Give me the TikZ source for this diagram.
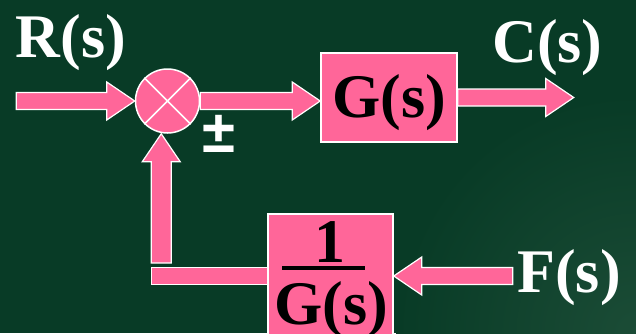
\documentclass[tikz,border=0pt]{standalone}
\usepackage{fontspec}
\setmainfont{Liberation Serif}
\newfontfamily\pmfont{Liberation Sans}
\usetikzlibrary{calc}

\definecolor{boardgreen}{HTML}{083B26}
\definecolor{glowgreen}{HTML}{1B4C36}
\definecolor{blockpink}{HTML}{FF6699}
\newcommand\bigbf{\fontsize{62}{66}\selectfont\bfseries}

\tikzset{
  blockbox/.style={draw=white, line width=1.5pt, fill=blockpink, inner sep=0pt},
  arrowshape/.style={draw=white, line width=1.2pt, fill=blockpink, line join=miter},
  signal/.style={text=white, inner sep=0pt, font=\bigbf},
  blocktext/.style={inner sep=0pt, font=\bigbf},
}

% block arrow from #2 to #3, shaft half width #1
\newcommand\barrow[3][8.5pt]{%
  \coordinate (hb) at ($(#3)!28pt!(#2)$);
  \draw[arrowshape] ($(#2)!#1!90:(#3)$) -- ($(hb)!#1!-90:(#2)$) -- ($(hb)!19pt!-90:(#2)$)
    -- (#3) -- ($(hb)!19pt!90:(#2)$) -- ($(hb)!#1!90:(#2)$) -- ($(#2)!#1!-90:(#3)$) -- cycle;}
% headless bar from #2 to #3
\newcommand\bbar[3][8.5pt]{%
  \draw[arrowshape] ($(#2)!#1!90:(#3)$) -- ($(#3)!#1!-90:(#2)$) -- ($(#3)!#1!90:(#2)$)
    -- ($(#2)!#1!-90:(#3)$) -- cycle;}

\begin{document}
\begin{tikzpicture}[x=1pt, y=1pt]
\useasboundingbox (0,0) rectangle (636,333);
\clip (0,0) rectangle (636,333);
\fill[boardgreen] (0,0) rectangle (636,333);
\shade[inner color=glowgreen, outer color=boardgreen] (636,0) circle (240);

% forward path
\node[signal, anchor=base] (R) at (71,276) {R(s)};
\node[blockbox, circle, minimum size=64pt] (sum) at (167.5,232) {};
\draw[white, line width=1.5pt] (sum.north west) -- (sum.south east)
  (sum.north east) -- (sum.south west);
\node[signal, font=\pmfont\fontsize{60}{64}\selectfont\bfseries] (pm) at (219,199.5) {±};
\node[blockbox, minimum width=136pt, text height=64.5pt, text depth=24.5pt, font=\bigbf] (G) at (389,235.5) {G(s)};
\node[signal, anchor=base] (C) at (547.5,271) {C(s)};

% feedback path
\node[blockbox, minimum width=125pt, minimum height=124pt] (fb) at (330.5,57) {};
\node[blocktext, anchor=base] (fbnum) at (329.5,71) {1};
\node[blocktext, anchor=base] (fbden) at (331,8.5) {G(s)};
\draw[line width=4pt] ($(fbnum.base)+(-47.5,-6)$) -- ++(83,0);
\node[signal, anchor=base] (F) at (569,41) {F(s)};

\coordinate (rin) at ([xshift=-118.5pt]sum.west);
\coordinate (gin) at (sum.east -| G.west);
\coordinate (cout) at ([xshift=116pt]G.east);
\coordinate (fin) at ([xshift=119pt]fb.east);
\coordinate (corner) at ([xshift=-116pt]fb.west);
\coordinate (fbup) at ($(corner)+(10,13)$);
\coordinate (sumin) at (sum.south -| fbup);

\barrow{rin}{sum.west}
\barrow{sum.east}{gin}
\barrow{G.east}{cout}
\barrow{fin}{fb.east}
\bbar{fb.west}{corner}
\barrow[10pt]{fbup}{sumin}
\end{tikzpicture}
\end{document}
